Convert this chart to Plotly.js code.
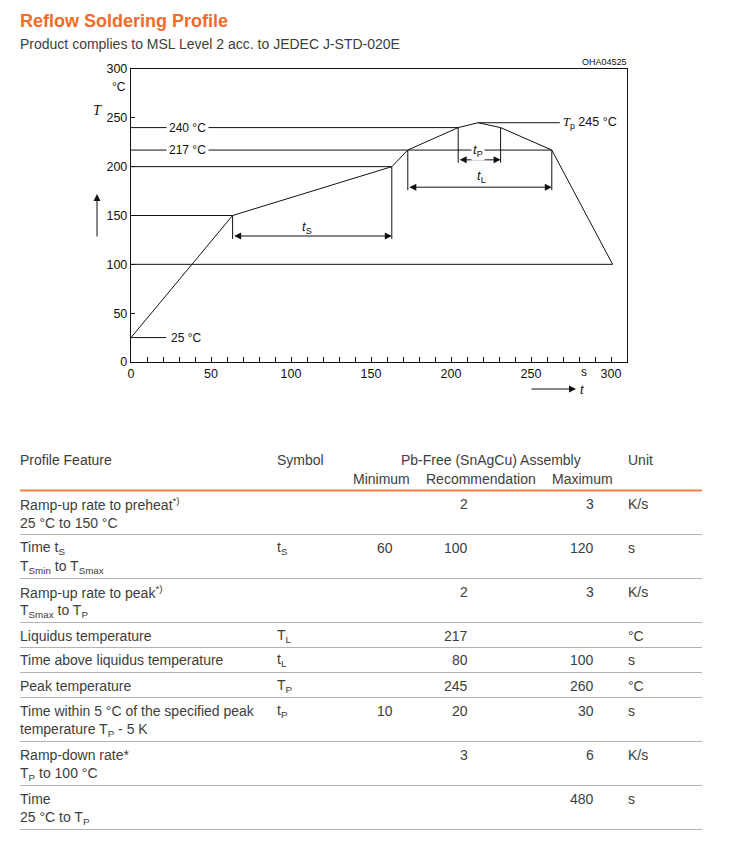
<!DOCTYPE html>
<html>
<head>
<meta charset="utf-8">
<script src="https://cdn.plot.ly/plotly-3.0.1.min.js"></script>
<style>
html,body{margin:0;padding:0;background:#fff;}
#chart{width:729px;height:842px;}
</style>
</head>
<body>
<div id="chart"></div>
<script>
// ---------- chart data ----------
const profileTime = [0, 63.5, 163, 173, 204.5, 217, 231, 263, 301];
const profileTemp = [25, 150, 200, 217, 240, 245, 240, 217, 100];

const refLevel = [25, 100, 150, 200, 217, 240, 245];
const refStart = [0, 0, 0, 0, 0, 0, 217];
const refEnd   = [22, 301, 63.5, 163, 263, 204.5, 268];

const dimLabels = ['t', 't', 't'];
const dimSubs   = ['S', 'L', 'P'];
const dimStart  = [63.5, 173, 204.5];
const dimEnd    = [163, 263, 231];
const dimFromTempStart = [150, 217, 240];
const dimFromTempEnd   = [200, 217, 240];
const dimLevel  = [129, 179, 207];
const dimLabelT = [110, 219, 217];
const dimLabelC = [138, 190, 217];

const xTickVals = [0, 50, 100, 150, 200, 250, 300];
const yTickVals = [0, 50, 100, 150, 200, 250, 300];

// ---------- table data ----------
const featureLine1 = ['Ramp-up rate to preheat<sup>*)</sup>', 'Time t<sub>S</sub>', 'Ramp-up rate to peak<sup>*)</sup>',
  'Liquidus temperature', 'Time above liquidus temperature', 'Peak temperature',
  'Time within 5 °C of the specified peak', 'Ramp-down rate*', 'Time'];
const featureLine2 = ['25 °C to 150 °C', 'T<sub>Smin</sub> to T<sub>Smax</sub>', 'T<sub>Smax</sub> to T<sub>P</sub>',
  '', '', '', 'temperature T<sub>P</sub> - 5 K', 'T<sub>P</sub> to 100 °C', '25 °C to T<sub>P</sub>'];
const symbols = ['', 't<sub>S</sub>', '', 'T<sub>L</sub>', 't<sub>L</sub>', 'T<sub>P</sub>', 't<sub>P</sub>', '', ''];
const minimum = ['', '60', '', '', '', '', '10', '', ''];
const recommendation = ['2', '100', '2', '217', '80', '245', '20', '3', ''];
const maximum = ['3', '120', '3', '', '100', '260', '30', '6', '480'];
const units = ['K/s', 's', 'K/s', '°C', 's', '°C', 's', 'K/s', 's'];

// ---------- layout helpers ----------
const ML = 131, MR = 102, MT = 69, MB = 480;
const PW = 729 - ML - MR, PH = 842 - MT - MB;
const fx = p => (p - ML) / PW;
const fy = p => (842 - MB - p) / PH;
const FONT = 'Liberation Sans, Arial, Helvetica, sans-serif';
const SERIF = 'Liberation Serif, Times New Roman, serif';
const TXT = '#3d3d3d';
const INK = '#111';

const shapes = [];
const annotations = [];

// reference lines
for (let i = 0; i < refLevel.length; i++) {
  shapes.push({type: 'line', xref: 'x', yref: 'y', x0: refStart[i], x1: refEnd[i], y0: refLevel[i], y1: refLevel[i],
    line: {color: INK, width: 1}});
}
// dimension extension lines and arrows
for (let i = 0; i < dimStart.length; i++) {
  shapes.push({type: 'line', xref: 'x', yref: 'y', x0: dimStart[i], x1: dimStart[i], y0: dimFromTempStart[i], y1: dimLevel[i] - 3,
    line: {color: INK, width: 1}});
  shapes.push({type: 'line', xref: 'x', yref: 'y', x0: dimEnd[i], x1: dimEnd[i], y0: dimFromTempEnd[i], y1: dimLevel[i] - 3,
    line: {color: INK, width: 1}});
  annotations.push({xref: 'x', yref: 'y', axref: 'x', ayref: 'y', x: dimEnd[i], y: dimLevel[i], ax: dimStart[i], ay: dimLevel[i],
    text: '', showarrow: true, arrowhead: 2, arrowside: 'end+start', arrowsize: 1.4, arrowwidth: 1, arrowcolor: INK, standoff: 0, startstandoff: 0});
  annotations.push({xref: 'x', yref: 'y', x: dimLabelT[i], y: dimLabelC[i], xanchor: 'center', yanchor: 'middle', showarrow: false,
    text: '<i>' + dimLabels[i] + '</i><sub>' + dimSubs[i] + '</sub>', bgcolor: i === 2 ? '#fff' : 'rgba(0,0,0,0)',
    font: {family: FONT, size: 13, color: INK}, borderpad: 1});
}
// level labels
function dAnn(x, y, text, xa, extra) {
  annotations.push(Object.assign({xref: 'x', yref: 'y', x: x, y: y, xanchor: xa, yanchor: 'middle', text: text, showarrow: false,
    font: {family: FONT, size: 12, color: INK}}, extra || {}));
}
dAnn(35, 240, '240 °C', 'center', {bgcolor: '#fff', borderpad: 2});
dAnn(35, 217, '217 °C', 'center', {bgcolor: '#fff', borderpad: 2});
dAnn(23.5, 25, '25 °C', 'left');
dAnn(269, 245, '<span style="font-family:' + SERIF + '"><i>T</i></span><sub>p</sub> 245 °C', 'left', {font: {family: FONT, size: 12.5, color: INK}});

// axis extras (paper coordinates)
function pAnn(x, y, text, xa, font) {
  annotations.push({xref: 'paper', yref: 'paper', x: fx(x), y: fy(y), xanchor: xa, yanchor: 'middle',
    text: text, showarrow: false, font: font});
}
pAnn(629, 62, 'OHA04525', 'right', {family: FONT, size: 9, color: INK});
pAnn(128, 87, '°C', 'right', {family: FONT, size: 12, color: INK});
pAnn(97, 110, '<i>T</i>', 'center', {family: SERIF, size: 14, color: INK});
annotations.push({xref: 'paper', yref: 'paper', x: fx(97), y: fy(194), ax: 0, ay: 44, text: '', showarrow: true,
  arrowhead: 2, arrowsize: 1.4, arrowwidth: 1, arrowcolor: INK});
pAnn(584, 372, 's', 'center', {family: FONT, size: 12, color: INK});
annotations.push({xref: 'paper', yref: 'paper', x: fx(576), y: fy(389), ax: -46, ay: 0, text: '', showarrow: true,
  arrowhead: 2, arrowsize: 1.4, arrowwidth: 1, arrowcolor: INK});
pAnn(578, 389, '<i>t</i>', 'left', {family: FONT, size: 13, color: INK});

// titles
pAnn(18, 21, '<b>Reflow Soldering Profile</b>', 'left', {family: FONT, size: 18, color: '#f26b2b'});
pAnn(18, 44, 'Product complies to MSL Level 2 acc. to JEDEC J-STD-020E', 'left', {family: FONT, size: 14, color: TXT});

// table
const tf = {family: FONT, size: 14, color: TXT};
function tAnn(x, y, text, anchor) {
  const dx = anchor === 'left' ? -2 : (anchor === 'right' ? 2 : 0);
  pAnn(x + dx, y, text, anchor, tf);
}
tAnn(20, 460, 'Profile Feature', 'left');
tAnn(277, 460, 'Symbol', 'left');
tAnn(491, 460, 'Pb-Free (SnAgCu) Assembly', 'center');
tAnn(628, 460, 'Unit', 'left');
tAnn(381, 479, 'Minimum', 'center');
tAnn(481, 479, 'Recommendation', 'center');
tAnn(582, 479, 'Maximum', 'center');
shapes.push({type: 'line', xref: 'paper', yref: 'paper', x0: fx(20), x1: fx(702), y0: fy(490.5), y1: fy(490.5),
  line: {color: '#f4804a', width: 2}});

let rowTop = 490.5;
for (let i = 0; i < featureLine1.length; i++) {
  const yy = rowTop + 13;
  tAnn(20, yy, featureLine1[i], 'left');
  if (featureLine2[i]) tAnn(20, yy + 19.5, featureLine2[i], 'left');
  if (symbols[i]) tAnn(277, yy, symbols[i], 'left');
  if (minimum[i]) tAnn(393, yy, minimum[i], 'right');
  if (recommendation[i]) tAnn(468, yy, recommendation[i], 'right');
  if (maximum[i]) tAnn(594, yy, maximum[i], 'right');
  tAnn(628, yy, units[i], 'left');
  rowTop += featureLine2[i] ? 44 : 25;
  shapes.push({type: 'line', xref: 'paper', yref: 'paper', x0: fx(20), x1: fx(702), y0: fy(rowTop), y1: fy(rowTop),
    line: {color: '#b3b3b3', width: 1}});
}

const trace = {x: profileTime, y: profileTemp, type: 'scatter', mode: 'lines',
  line: {color: INK, width: 1}, hoverinfo: 'skip', showlegend: false};

const layout = {
  width: 729, height: 842,
  margin: {l: ML, r: MR, t: MT, b: MB, pad: 0},
  paper_bgcolor: '#fff', plot_bgcolor: '#fff',
  font: {family: FONT, size: 12, color: INK},
  showlegend: false,
  xaxis: {range: [0, 310], tickmode: 'array', tickvals: xTickVals, ticks: 'inside', ticklen: 5, tickwidth: 1, tickcolor: INK,
    minor: {dtick: 10, tick0: 0, ticks: 'inside', ticklen: 5, tickwidth: 1, tickcolor: INK, showgrid: false},
    showgrid: false, zeroline: false, showline: true, linecolor: INK, linewidth: 1.2, mirror: true,
    tickfont: {family: FONT, size: 12.5, color: INK}, fixedrange: true},
  yaxis: {range: [0, 300], tickmode: 'array', tickvals: yTickVals, ticks: 'inside', ticklen: 4, tickwidth: 1, tickcolor: INK,
    showgrid: false, zeroline: false, showline: true, linecolor: INK, linewidth: 1.2, mirror: true,
    tickfont: {family: FONT, size: 12.5, color: INK}, fixedrange: true},
  shapes: shapes,
  annotations: annotations
};

Plotly.newPlot('chart', [trace], layout, {staticPlot: true, displayModeBar: false});
</script>
</body>
</html>
